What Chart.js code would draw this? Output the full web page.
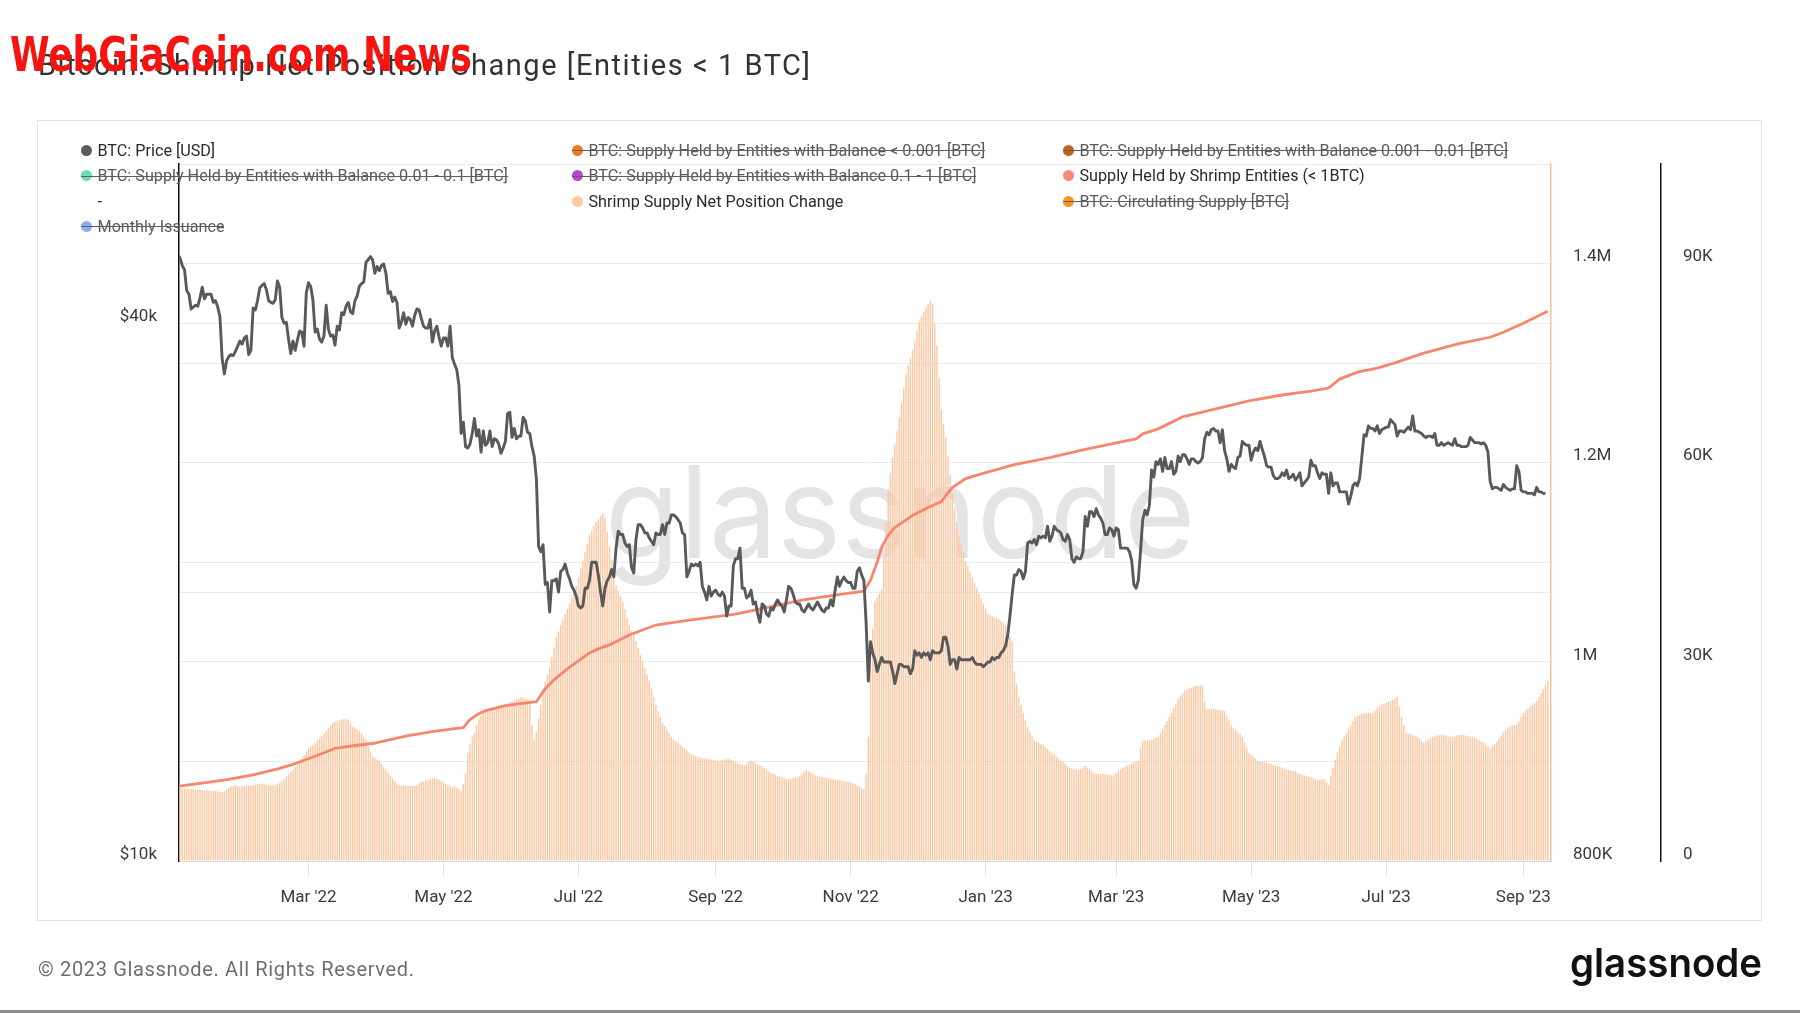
<!DOCTYPE html>
<html>
<head>
<meta charset="utf-8">
<script src="https://cdn.jsdelivr.net/npm/chart.js@4.4.0/dist/chart.umd.min.js"></script>
<style>
html,body{margin:0;padding:0;background:#fff;}
body{width:1800px;height:1013px;position:relative;overflow:hidden;font-family:Roboto,"Noto Sans",sans-serif;}
.abs{position:absolute;white-space:nowrap;}
#box{position:absolute;left:37px;top:120px;width:1725px;height:801px;border:1.5px solid #e4e4e4;box-sizing:border-box;z-index:0;}
#wm{z-index:1;color:#e4e4e4;font-family:Inter,Roboto,sans-serif;font-weight:400;transform-origin:left top;}
#c{position:absolute;left:0;top:0;z-index:2;}
.leg{z-index:3;height:20px;display:flex;align-items:center;font-size:16.2px;font-family:Roboto,sans-serif;}
.leg .dot{display:inline-block;width:11px;height:11px;border-radius:50%;margin-right:6px;flex:none;}
.leg .strike{position:absolute;left:0;right:0;top:10px;height:1px;background:#5f5f5f;}
#title{z-index:3;color:#333;font-family:Roboto,sans-serif;font-weight:400;}
#red{z-index:4;color:#f5140f;font-family:"Liberation Sans Narrow","DejaVu Sans Condensed",sans-serif;font-weight:700;transform-origin:left top;}
#foot{z-index:3;color:#6e6e6e;font-family:Roboto,sans-serif;}
#logo{z-index:3;color:#111;font-family:Inter,Roboto,sans-serif;font-weight:600;transform-origin:left top;}
#bottomline{position:absolute;left:0;top:1010px;width:1800px;height:3px;background:#8d8d8d;}
</style>
</head>
<body>
<div id="box"></div>
<div id="wm" class="abs">glassnode</div>
<canvas id="c" width="1800" height="1013"></canvas>
<div id="title" class="abs">Bitcoin: Shrimp Net Position Change [Entities &lt; 1 BTC]</div>
<div id="red" class="abs">WebGiaCoin.com News</div>
<div id="foot" class="abs">© 2023 Glassnode. All Rights Reserved.</div>
<div id="logo" class="abs">glassnode</div>
<div id="bottomline"></div>
<script>
// ---------- DATA ----------
// day index 0 = 2022-01-01
const tickDays = [59, 120, 181, 243, 304, 365, 424, 485, 546, 608];
const tickLabels = ["Mar '22", "May '22", "Jul '22", "Sep '22", "Nov '22", "Jan '23", "Mar '23", "May '23", "Jul '23", "Sep '23"];
const priceTicks = [10, 20, 40];
const priceTickLabels = ["$10k", "", "$40k"];
const supplyTickValues = [800, 1000, 1200, 1400];
const supplyTickLabels = ["800K", "1M", "1.2M", "1.4M"];
const netTickValues = [0, 30, 60, 90];
const netTickLabels = ["0", "30K", "60K", "90K"];

// BTC price, daily, thousands USD
const price = [
47.7,47.3,46.4,45.9,43.5,43.1,41.5,41.7,41.9,41.8,42.7,43.9,42.6,43.1,43.1,43.1,42.2,42.4,41.7,40.7,36.5,35.1,36.3,36.7,36.9,36.8,37.2,37.7,38.2,37.9,38.5,
38.7,36.9,37.3,41.6,41.4,42.4,43.8,44.1,44.3,43.6,42.4,42.2,42.1,42.5,44.6,43.9,40.6,40.0,40.1,38.4,37.0,38.2,37.3,38.3,39.2,39.1,37.7,43.2,
44.4,44.0,42.5,39.1,39.4,38.4,38.1,38.7,41.9,39.4,38.7,38.8,37.8,39.7,39.3,41.1,40.9,41.8,42.2,41.2,41.0,42.4,42.9,44.0,44.3,44.5,46.8,47.1,47.5,47.1,45.5,
46.3,45.8,46.4,46.6,45.5,43.2,43.4,42.3,42.8,42.2,39.5,40.1,41.1,39.9,40.6,40.4,39.7,40.8,41.5,41.4,40.5,39.7,39.5,39.5,40.4,38.1,39.2,39.7,38.6,37.7,
38.5,38.5,37.7,39.7,36.6,36.0,35.5,34.1,30.1,31.0,29.1,29.0,29.3,30.1,31.3,29.9,30.4,28.7,30.3,29.2,29.4,30.3,29.1,29.7,29.6,29.3,28.6,29.0,29.5,31.7,31.8,
29.8,30.5,29.7,29.9,29.9,31.4,31.1,30.2,30.1,29.1,28.4,26.8,22.5,22.2,22.6,20.4,20.5,19.0,20.6,20.6,20.7,20.0,21.1,21.2,21.5,21.0,20.7,20.3,20.1,19.8,
19.3,19.2,19.3,20.2,20.2,20.6,21.6,21.6,21.6,20.9,20.0,19.3,20.2,20.6,20.8,21.2,20.8,22.4,23.4,23.2,23.2,22.7,22.5,22.6,21.3,21.0,22.9,23.8,23.8,23.6,23.3,
23.3,23.0,22.8,22.6,23.3,23.2,23.2,23.8,23.2,23.9,23.9,24.4,24.4,24.3,24.1,23.9,23.3,23.2,20.8,21.1,21.5,21.4,21.5,21.4,21.6,20.3,20.0,19.6,20.3,19.8,20.0,
20.1,19.9,19.8,20.0,19.8,18.8,19.3,19.3,21.4,21.8,21.8,22.4,20.2,20.2,19.7,19.8,20.1,19.4,19.5,18.9,18.5,19.4,19.3,18.9,18.8,19.2,19.1,19.4,19.6,19.4,
19.3,19.0,19.6,20.3,20.2,19.9,19.5,19.4,19.4,19.1,19.0,19.2,19.4,19.2,19.1,19.3,19.5,19.3,19.1,19.0,19.2,19.2,19.6,19.3,20.1,20.8,20.3,20.6,20.8,20.6,20.5,
20.5,20.2,20.2,21.1,21.3,20.9,20.6,18.5,15.9,17.6,17.1,16.8,16.3,16.6,16.9,16.7,16.7,16.7,16.7,16.3,15.8,16.2,16.6,16.6,16.5,16.5,16.5,16.2,16.4,17.2,
17.0,17.1,16.9,17.1,17.0,17.1,16.8,17.2,17.1,17.1,17.1,17.2,17.8,17.8,17.4,16.6,16.8,16.8,16.4,16.9,16.8,16.8,16.8,16.8,16.8,16.9,16.7,16.6,16.6,16.6,16.5,
16.6,16.7,16.7,16.9,16.8,16.9,16.9,17.1,17.2,17.4,17.9,18.8,19.9,20.9,20.9,21.2,21.1,20.7,21.1,22.7,22.8,22.7,22.9,22.6,23.1,23.0,23.1,23.0,23.7,22.8,23.1,
23.7,23.5,23.4,23.3,22.9,22.8,23.2,22.9,21.8,21.6,21.9,21.8,21.8,22.2,24.3,23.7,24.6,24.6,24.3,24.8,24.4,24.2,23.9,23.2,23.2,23.6,23.5,23.1,
23.6,23.5,22.4,22.4,22.4,22.4,22.2,21.7,20.4,20.2,20.6,22.2,24.1,24.7,24.4,25.0,27.4,26.9,28.0,27.8,28.2,27.3,28.3,27.5,27.5,28.0,27.1,27.3,28.4,28.0,28.5,
28.5,28.2,27.8,28.2,28.2,28.0,27.9,28.0,28.3,29.7,30.2,30.0,30.4,30.5,30.3,30.3,29.4,30.4,28.8,28.2,27.3,27.8,27.6,27.5,28.3,28.4,29.5,29.3,29.2,29.2,
28.1,28.7,29.0,28.8,29.5,28.9,28.4,27.7,27.6,27.6,27.0,26.8,26.8,26.9,27.2,27.0,27.4,26.8,26.9,27.1,26.7,26.9,27.2,26.3,26.5,26.7,26.9,28.1,27.7,27.7,27.2,
26.8,27.2,27.1,27.1,25.8,27.2,26.3,26.5,26.5,25.9,25.9,25.9,25.9,25.1,25.6,26.3,26.5,26.3,26.8,28.3,30.0,29.9,30.7,30.5,30.5,30.3,30.7,30.1,30.4,30.5,
30.6,30.6,31.2,31.0,30.8,29.9,30.3,30.3,30.2,30.4,30.6,30.4,31.5,30.3,30.3,30.2,30.1,29.9,29.8,29.9,29.9,29.8,30.1,29.2,29.2,29.4,29.2,29.3,29.4,29.3,29.2,
29.7,29.2,29.2,29.1,29.1,29.1,29.2,29.8,29.6,29.4,29.4,29.4,29.3,29.4,29.2,28.7,26.6,26.1,26.2,26.2,26.1,26.0,26.4,26.2,26.1,26.0,26.1,26.1,27.7,27.3,26.0,
25.9,25.9,25.8,25.8,25.8,25.7,26.2,25.9,25.9,25.8,25.8
];

// Shrimp Supply Net Position Change, daily, thousands BTC
const netChange = [
11.3,11.2,11.0,10.9,10.8,10.8,10.9,10.8,10.7,10.8,
10.8,10.7,10.6,10.7,10.6,10.6,10.5,10.6,10.5,10.4,
10.4,10.5,10.8,11.0,11.2,11.3,11.4,11.3,11.2,11.3,
11.3,11.4,11.3,11.4,11.4,11.5,11.6,11.6,11.7,11.6,
11.5,11.5,11.4,11.4,11.4,11.6,11.8,12.0,12.3,12.8,
13.1,13.5,13.8,14.2,14.5,15.0,15.4,15.9,16.4,16.9,
17.2,17.5,17.8,18.1,18.4,18.8,19.2,19.6,20.0,20.4,
20.8,21.0,21.1,21.2,21.3,21.4,21.4,21.2,20.7,20.2,
20.0,19.8,19.6,19.2,18.7,18.3,17.3,16.5,15.7,15.5,
15.3,15.1,14.7,14.2,13.8,13.3,12.8,12.4,12.0,11.7,
11.4,11.4,11.4,11.3,11.4,11.3,11.3,11.3,11.5,11.7,
11.9,12.0,12.1,12.2,12.3,12.4,12.5,12.4,12.2,12.0,
11.8,11.6,11.4,11.3,11.2,11.2,11.0,10.8,10.5,11.6,
13.2,16.3,17.6,18.7,19.3,20.4,21.4,21.9,22.3,22.6,
22.7,22.9,23.0,23.2,23.3,23.4,23.5,23.5,23.6,23.7,
23.9,24.0,24.1,24.3,24.5,24.7,24.6,24.5,24.4,24.3,
20.5,18.3,19.5,21.5,23.5,25.3,27.0,28.1,29.2,30.7,
32.2,33.7,34.6,35.5,36.4,37.2,38.0,38.8,39.7,40.6,
41.5,42.7,44.0,45.2,46.5,47.8,49.1,49.8,50.5,51.2,
51.6,52.0,52.4,51.8,49.5,47.3,45.4,43.4,41.5,40.7,
39.9,39.1,37.9,36.7,35.5,34.7,33.9,33.1,32.1,31.1,
30.1,29.1,28.1,27.1,25.9,24.7,23.5,22.6,21.7,20.8,
20.3,19.8,19.2,18.7,18.4,18.1,17.8,17.5,17.2,16.9,
16.6,16.3,16.1,16.0,15.9,15.7,15.6,15.5,15.4,15.4,
15.3,15.3,15.2,15.1,15.1,15.1,15.2,15.3,15.4,15.4,
15.2,15.1,14.9,14.8,14.6,14.5,14.4,14.6,14.9,15.1,
14.9,14.8,14.6,14.4,14.3,14.0,13.8,13.5,13.3,13.2,
13.0,12.8,12.7,12.6,12.5,12.4,12.3,12.4,12.5,12.6,
12.6,12.8,13.1,13.4,13.7,13.5,13.3,13.1,12.9,12.8,
12.7,12.7,12.6,12.5,12.5,12.4,12.3,12.3,12.2,12.2,
12.1,12.0,11.9,11.9,11.8,11.7,11.6,11.4,11.2,11.0,
10.8,13.2,18.7,29.5,35.0,39.1,39.8,40.3,40.9,46.0,
51.0,56.0,58.4,60.8,62.8,64.8,66.8,69.0,71.2,73.4,
74.6,75.8,77.0,78.4,79.9,81.3,82.0,82.7,83.4,83.9,
84.4,84.0,81.0,77.7,72.8,68.0,65.9,63.8,61.0,58.2,
55.4,53.2,51.0,48.8,47.6,46.4,45.2,44.4,43.5,42.7,
41.9,41.1,40.3,39.6,38.8,38.0,37.3,37.1,36.9,36.8,
36.6,36.4,36.1,35.8,35.5,34.7,33.9,33.1,28.6,26.6,
24.7,23.5,22.3,21.2,20.2,19.5,18.8,18.1,17.9,17.8,
17.6,17.5,17.2,16.9,16.6,16.3,16.0,15.7,15.4,15.1,
14.9,14.6,14.3,14.0,13.9,13.8,13.8,13.7,13.9,14.1,
14.3,14.1,13.8,13.5,13.2,13.2,13.1,13.1,13.1,13.1,
13.0,13.0,12.9,12.9,13.3,13.6,13.8,14.0,14.2,14.4,
14.5,14.6,14.8,14.9,15.1,17.0,18.1,18.1,18.2,18.2,
18.3,18.4,18.6,18.7,19.3,19.9,20.5,21.1,21.7,22.3,
23.0,23.7,24.4,24.8,25.2,25.6,25.8,26.0,26.1,26.3,
26.4,26.4,26.5,26.5,24.0,22.9,22.9,22.9,22.9,22.9,
22.8,22.7,22.7,22.6,21.9,21.2,20.5,20.1,19.8,19.4,
19.1,18.7,17.9,17.1,16.3,16.0,15.7,15.4,15.1,15.0,
15.0,14.9,14.8,14.7,14.6,14.5,14.4,14.3,14.2,14.0,
13.9,13.8,13.7,13.6,13.6,13.5,13.3,13.1,13.0,12.9,
12.8,12.7,12.6,12.5,12.3,12.2,12.2,12.3,12.3,11.9,
11.4,12.8,14.1,15.2,16.3,17.2,18.2,18.8,19.3,19.9,
20.5,21.0,21.6,21.8,22.0,22.1,22.3,22.3,22.3,22.3,
22.3,22.6,23.0,23.3,23.6,23.7,23.8,24.0,24.1,24.3,
24.5,24.7,23.2,21.7,20.5,19.3,19.2,19.1,19.0,18.9,
18.8,18.5,18.1,17.8,18.0,18.3,18.5,18.7,18.8,18.9,
19.0,19.0,19.0,18.9,18.8,18.7,18.7,18.8,18.9,19.0,
19.0,19.0,18.9,18.8,18.7,18.7,18.6,18.4,18.2,18.0,
17.8,17.5,17.2,17.0,17.3,17.6,17.9,18.4,18.9,19.4,
19.7,20.0,20.3,20.4,20.5,20.5,21.1,21.7,22.3,22.6,
22.9,23.2,23.5,23.8,24.1,24.7,25.3,25.9,26.5,27.1
];

// Supply Held by Shrimp Entities, thousands BTC, read at these day indexes
const supplyDays = [0,10,23,35,46,52,58,64,71,80,88,96,104,115,125,129,132,136,139,148,155,162,166,170,176,181,186,190,195,204,216,231,252,267,282,297,310,313,316,318,321,324,332,339,345,347,350,356,365,378,394,409,424,433,436,443,454,469,484,499,512,520,525,533,542,551,563,578,593,599,608,619];
const supplyK = [875,878,882,887,893,897,902,907,913,916,918,922,926,930,933,934,942,948,951,956,958,960,973,982,993,1001,1009,1013,1017,1027,1037,1042,1048,1055,1062,1067,1071,1082,1100,1115,1127,1135,1147,1155,1161,1167,1175,1184,1190,1198,1205,1213,1220,1224,1229,1234,1246,1254,1262,1268,1272,1275,1284,1291,1295,1301,1310,1319,1326,1331,1340,1352];

const legendItems = [
  {label:'BTC: Price [USD]', color:'#5b5b5b', col:0, row:0, off:false},
  {label:'BTC: Supply Held by Entities with Balance < 0.001 [BTC]', color:'#f07b1c', col:1, row:0, off:true},
  {label:'BTC: Supply Held by Entities with Balance 0.001 - 0.01 [BTC]', color:'#c4621c', col:2, row:0, off:true},
  {label:'BTC: Supply Held by Entities with Balance 0.01 - 0.1 [BTC]', color:'#6cdcbf', col:0, row:1, off:true},
  {label:'BTC: Supply Held by Entities with Balance 0.1 - 1 [BTC]', color:'#b548c6', col:1, row:1, off:true},
  {label:'Supply Held by Shrimp Entities (< 1BTC)', color:'#f48c7a', col:2, row:1, off:false},
  {label:'-', color:null, col:0, row:2, off:false},
  {label:'Shrimp Supply Net Position Change', color:'#fdcaa5', col:1, row:2, off:false},
  {label:'BTC: Circulating Supply [BTC]', color:'#f5961f', col:2, row:2, off:true},
  {label:'Monthly Issuance', color:'#8eaaf2', col:0, row:3, off:true}
];

// ---------- LEGEND ----------
const legColX = [86, 577, 1068];
const legRowY = [150, 175.5, 201, 226];
legendItems.forEach(it => {
  const d = document.createElement('div');
  d.className = 'abs leg';
  d.style.left = (legColX[it.col] - 5.5) + 'px';
  d.style.top = (legRowY[it.row] - 10) + 'px';
  d.style.color = it.off ? '#5a5a5a' : '#2a2a2a';
  const dot = document.createElement('span');
  dot.className = 'dot';
  dot.style.background = it.color || 'transparent';
  d.appendChild(dot);
  const t = document.createElement('span');
  t.textContent = it.label;
  d.appendChild(t);
  if (it.off) { const s = document.createElement('span'); s.className = 'abs strike'; d.appendChild(s); }
  document.body.appendChild(d);
});

// ---------- TEXT PLACEMENT ----------
const mctx = document.createElement('canvas').getContext('2d');
function place(id, size, left, baseline, width, mode) {
  const el = document.getElementById(id);
  const cs = getComputedStyle(el);
  el.style.fontSize = size + 'px';
  mctx.font = `${cs.fontWeight} ${size}px ${cs.fontFamily}`;
  const m = mctx.measureText(el.textContent);
  const asc = m.fontBoundingBoxAscent, desc = m.fontBoundingBoxDescent;
  el.style.lineHeight = (asc + desc) + 'px';
  el.style.left = left + 'px';
  el.style.top = (baseline - asc) + 'px';
  const w = m.width;
  if (mode === 'scale') el.style.transform = `scaleX(${width / w})`;
  else if (mode === 'space') el.style.letterSpacing = ((width - w) / (el.textContent.length - 1)) + 'px';
}
function layoutTexts() {
  place('title', 29, 38, 75, 772, 'space');
  place('red', 48, 10, 71, 462, 'scale');
  place('foot', 20, 38, 976, 376, 'space');
  place('logo', 40, 1570, 977, 192, 'scale');
  place('wm', 128, 605, 558, 590, 'scale');
}
layoutTexts();
if (document.fonts && document.fonts.ready) document.fonts.ready.then(layoutTexts);

// ---------- CHART ----------
Chart.defaults.font.family = 'Roboto';
const tickFont = {family:'Roboto', size:17};
const tickColor = '#3a3a3a';
const chart = new Chart(document.getElementById('c'), {
  type: 'bar',
  data: {
    datasets: [
      {type:'line', label:'BTC: Price [USD]', yAxisID:'yPrice', order:0,
       data: price.map((v, i) => ({x:i, y:v})),
       borderColor:'#595959', borderWidth:2.9, pointRadius:0, tension:0, borderJoinStyle:'round'},
      {type:'line', label:'Supply Held by Shrimp Entities (< 1BTC)', yAxisID:'ySupply', order:1,
       data: supplyDays.map((d, i) => ({x:d, y:supplyK[i]})),
       borderColor:'#f5876e', borderWidth:2.8, pointRadius:0, tension:0},
      {type:'bar', label:'Shrimp Supply Net Position Change', yAxisID:'yNet', order:2,
       data: netChange.map((v, i) => ({x:i, y:v})),
       backgroundColor:'#fcc6a0', barPercentage:0.62, categoryPercentage:1}
    ]
  },
  options: {
    responsive:false, animation:false, devicePixelRatio:1,
    layout:{padding:{left:40, right:59, top:164, bottom:92}},
    plugins:{legend:{display:false}, tooltip:{enabled:false}},
    scales:{
      x:{type:'linear', min:0.5, max:620.5, offset:false,
         afterBuildTicks: s => { s.ticks = tickDays.map(v => ({value:v})); },
         afterFit: s => { s.height = 60; },
         ticks:{callback: v => { const i = tickDays.indexOf(v); return i >= 0 ? tickLabels[i] : ''; },
                autoSkip:false, maxRotation:0, minRotation:0, padding:12, font:tickFont, color:tickColor},
         grid:{drawOnChartArea:false, drawTicks:true, tickLength:15, color:'#e3e3e3', offset:false},
         border:{display:true, color:'#dedede', width:1}},
      yPrice:{type:'logarithmic', position:'left', min:10, max:60.3,
         afterBuildTicks: s => { s.ticks = priceTicks.map(v => ({value:v})); },
         afterFit: s => { s.width = 139; },
         ticks:{callback: v => { const i = priceTicks.indexOf(v); return i >= 0 ? priceTickLabels[i] : ''; },
                padding:22, labelOffset:-6.5, font:tickFont, color:tickColor},
         grid:{drawTicks:false, color: c => (c.tick && c.tick.value === 10) ? 'rgba(0,0,0,0)' : '#ebebeb'},
         border:{color:'#111', width:1.5}},
      ySupply:{type:'linear', position:'right', weight:0, min:800, max:1500,
         afterFit: s => { s.width = 110; },
         ticks:{stepSize:100, callback: v => { const i = supplyTickValues.indexOf(v); return i >= 0 ? supplyTickLabels[i] : ''; },
                padding:22, labelOffset:-6.5, font:tickFont, color:tickColor},
         grid:{drawTicks:false, color:'#ebebeb'},
         border:{color:'#fcbf96', width:1.5}},
      yNet:{type:'linear', position:'right', weight:1, min:0, max:105,
         afterFit: s => { s.width = 80; },
         ticks:{stepSize:15, callback: v => { const i = netTickValues.indexOf(v); return i >= 0 ? netTickLabels[i] : ''; },
                padding:22, labelOffset:-6.5, font:tickFont, color:tickColor},
         grid:{drawOnChartArea:false, drawTicks:false},
         border:{color:'#111', width:1.5}}
    }
  }
});
</script>
</body>
</html>
